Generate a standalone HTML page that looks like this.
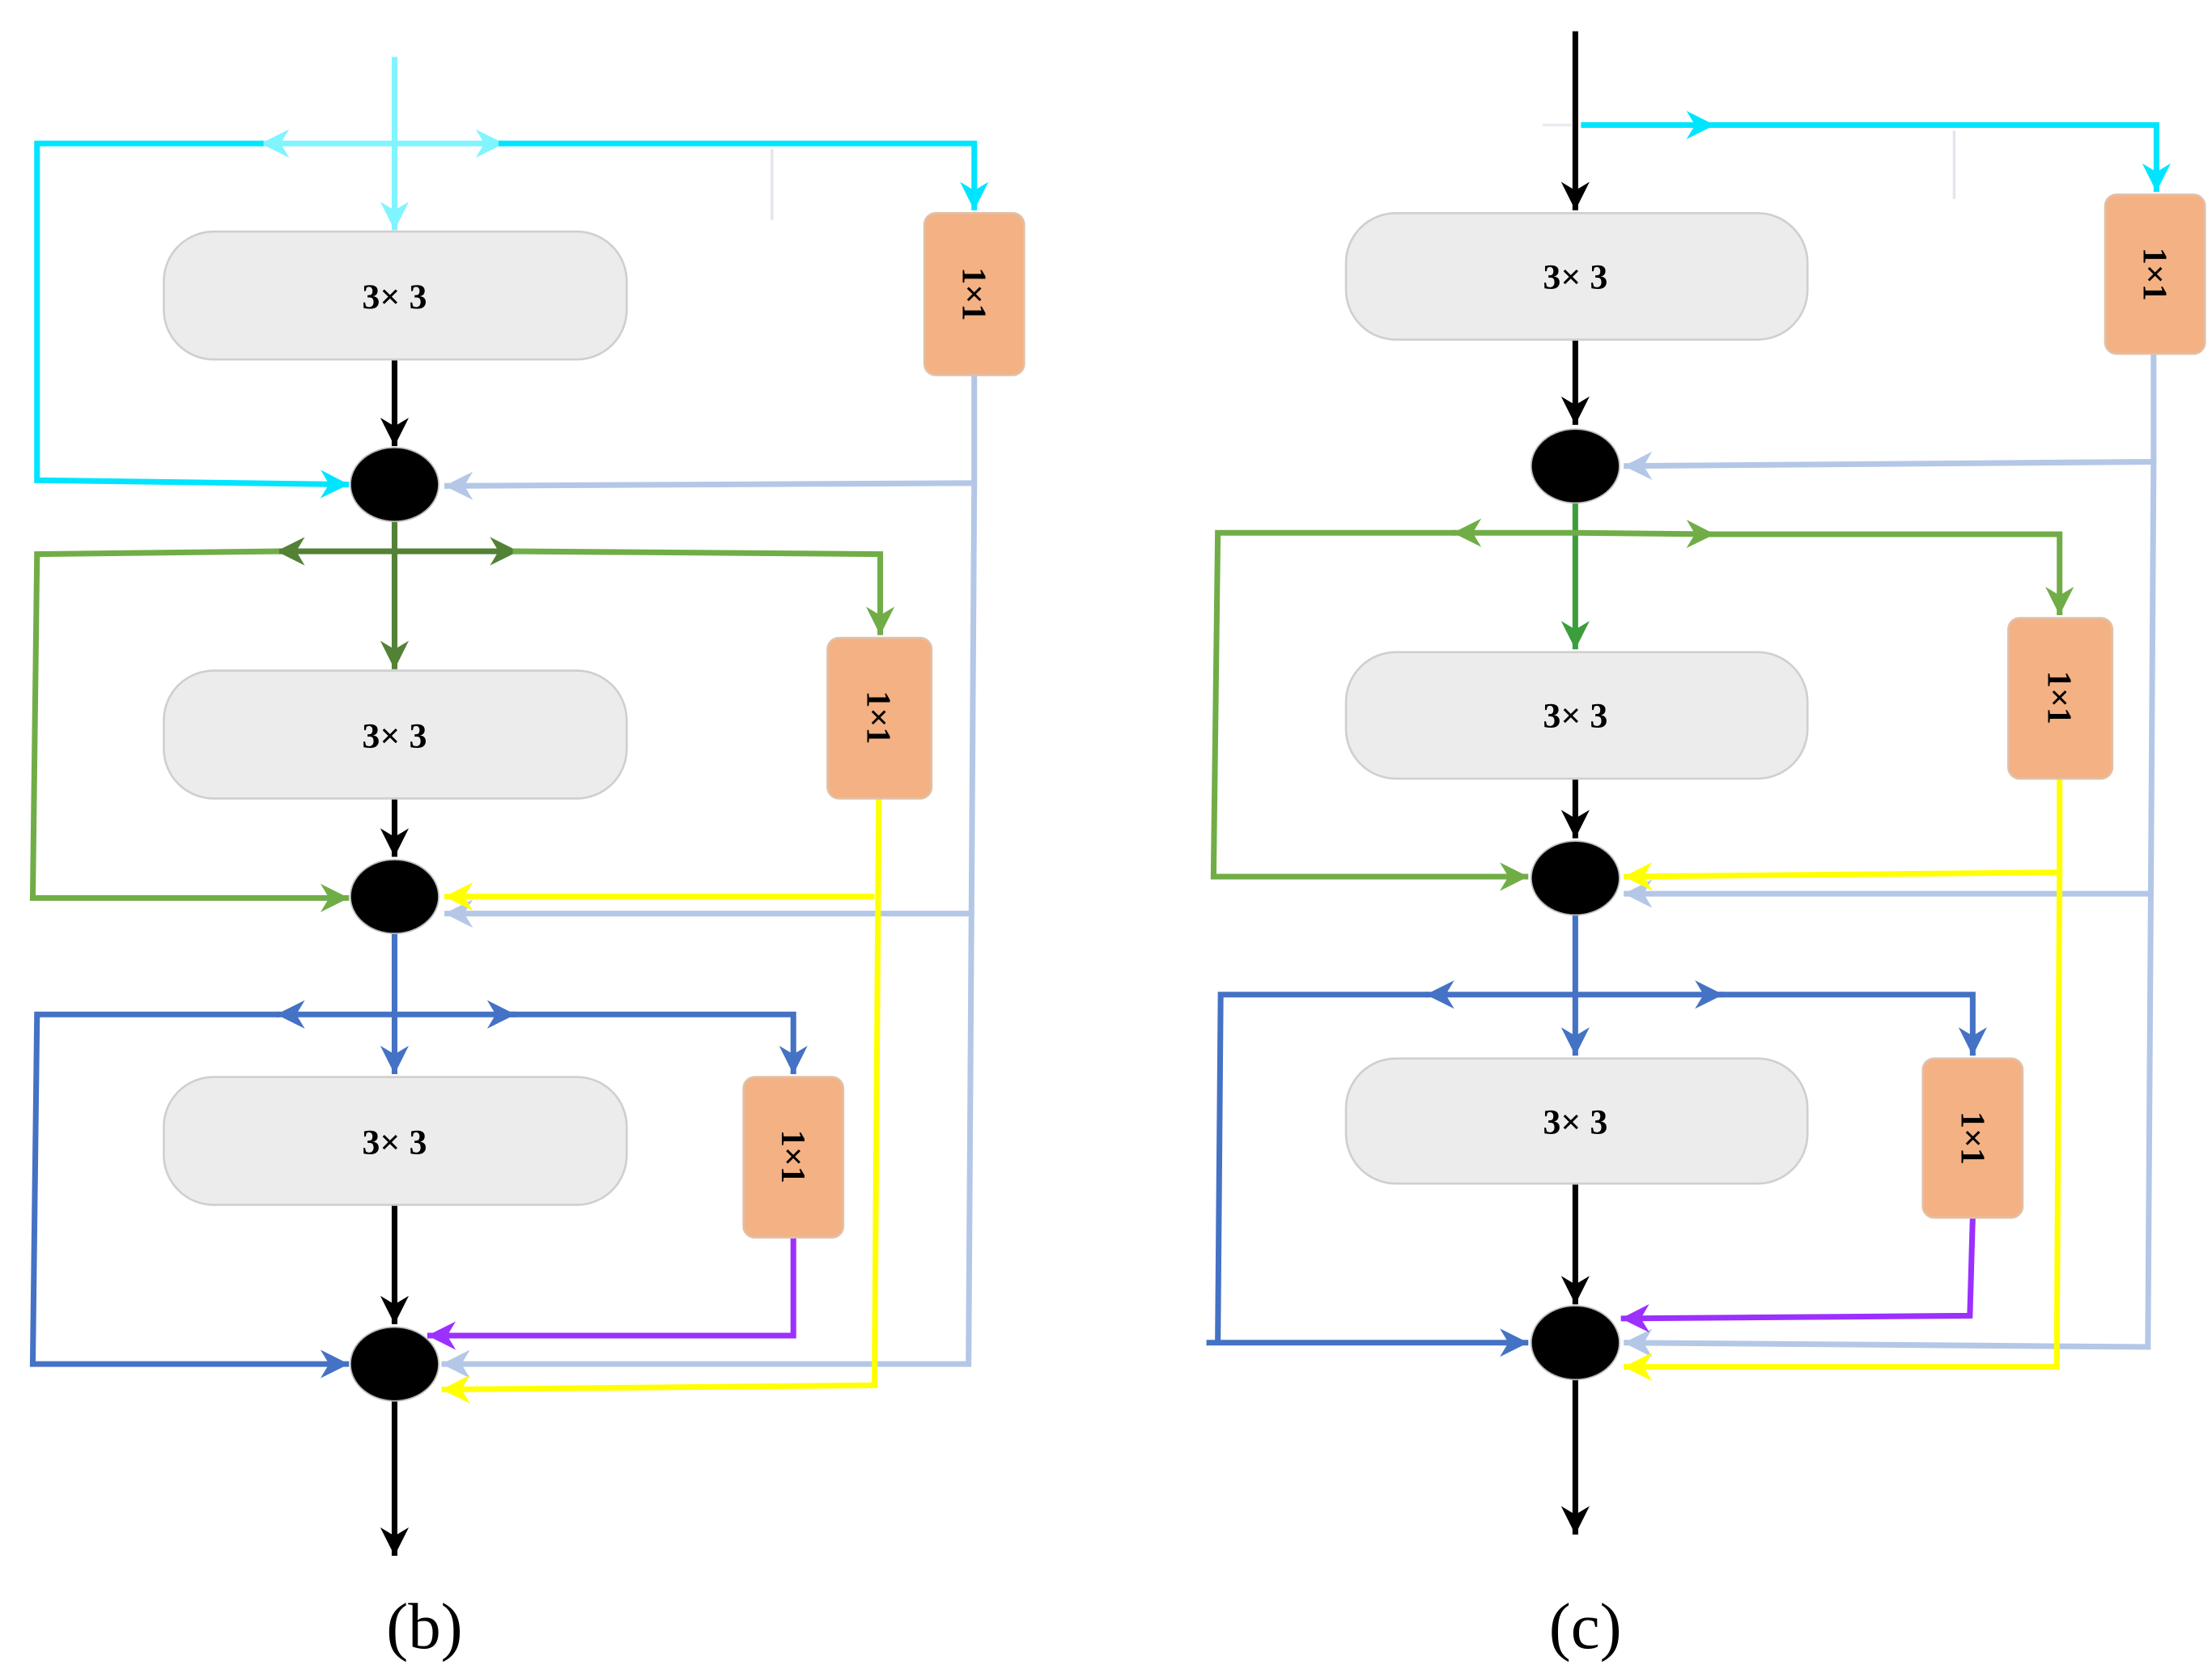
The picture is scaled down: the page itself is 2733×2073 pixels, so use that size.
<!DOCTYPE html>
<html><head><meta charset="utf-8"><style>
html,body{margin:0;padding:0;background:#fff;}
svg{display:block;}
text{font-family:"Liberation Serif",serif;font-weight:bold;}
</style></head><body>
<svg width="2733" height="2073" viewBox="0 0 1553 1181" preserveAspectRatio="none" xmlns="http://www.w3.org/2000/svg">
<defs>
<marker id="k" markerUnits="userSpaceOnUse" markerWidth="24" markerHeight="24" refX="20" refY="10" orient="auto"><path d="M0,0 L20,10 L0,20 L6,10 Z" fill="#000"/></marker>
<marker id="c" markerUnits="userSpaceOnUse" markerWidth="24" markerHeight="24" refX="20" refY="10" orient="auto"><path d="M0,0 L20,10 L0,20 L6,10 Z" fill="#00e5ff"/></marker>
<marker id="lc" markerUnits="userSpaceOnUse" markerWidth="24" markerHeight="24" refX="20" refY="10" orient="auto"><path d="M0,0 L20,10 L0,20 L6,10 Z" fill="#80f4ff"/></marker>
<marker id="lb" markerUnits="userSpaceOnUse" markerWidth="24" markerHeight="24" refX="20" refY="10" orient="auto"><path d="M0,0 L20,10 L0,20 L6,10 Z" fill="#b4c7e7"/></marker>
<marker id="g" markerUnits="userSpaceOnUse" markerWidth="24" markerHeight="24" refX="20" refY="10" orient="auto"><path d="M0,0 L20,10 L0,20 L6,10 Z" fill="#70ad47"/></marker>
<marker id="dg" markerUnits="userSpaceOnUse" markerWidth="24" markerHeight="24" refX="20" refY="10" orient="auto"><path d="M0,0 L20,10 L0,20 L6,10 Z" fill="#538135"/></marker>
<marker id="mg" markerUnits="userSpaceOnUse" markerWidth="24" markerHeight="24" refX="20" refY="10" orient="auto"><path d="M0,0 L20,10 L0,20 L6,10 Z" fill="#3c9d3c"/></marker>
<marker id="y" markerUnits="userSpaceOnUse" markerWidth="24" markerHeight="24" refX="20" refY="10" orient="auto"><path d="M0,0 L20,10 L0,20 L6,10 Z" fill="#ffff00"/></marker>
<marker id="b" markerUnits="userSpaceOnUse" markerWidth="24" markerHeight="24" refX="20" refY="10" orient="auto"><path d="M0,0 L20,10 L0,20 L6,10 Z" fill="#4472c4"/></marker>
<marker id="p" markerUnits="userSpaceOnUse" markerWidth="24" markerHeight="24" refX="20" refY="10" orient="auto"><path d="M0,0 L20,10 L0,20 L6,10 Z" fill="#9b30ff"/></marker>
</defs>
<g fill="none" stroke-width="4">
<line x1="277" y1="40" x2="277" y2="162" stroke="#80f4ff" marker-end="url(#lc)"/>
<line x1="277" y1="101" x2="183" y2="101" stroke="#80f4ff" marker-end="url(#lc)"/>
<line x1="277" y1="101" x2="354" y2="101" stroke="#80f4ff" marker-end="url(#lc)"/>
<polyline points="350,101 684,101 684,148" stroke="#00e5ff" marker-end="url(#c)"/>
<polyline points="185,101 26,101 26,338 245,341" stroke="#00e5ff" marker-end="url(#c)"/>
<line x1="542" y1="105" x2="542" y2="155" stroke="#e4e6ee" stroke-width="2"/>
<polyline points="684,264 684,340 312,342" stroke="#b4c7e7" marker-end="url(#lb)"/>
<polyline points="684,340 680,960 310,960" stroke="#b4c7e7" marker-end="url(#lb)"/>
<polyline points="684,643 312,643" stroke="#b4c7e7" marker-end="url(#lb)"/>
<line x1="277" y1="253" x2="277" y2="314" stroke="#000" marker-end="url(#k)"/>
<line x1="277" y1="366" x2="277" y2="471" stroke="#538135" marker-end="url(#dg)"/>
<line x1="277" y1="388" x2="194" y2="388" stroke="#538135" marker-end="url(#dg)"/>
<line x1="277" y1="388" x2="364" y2="388" stroke="#538135" marker-end="url(#dg)"/>
<polyline points="360,388 618,390 618,447" stroke="#70ad47" marker-end="url(#g)"/>
<polyline points="196,388 26,390 23,632 245,632" stroke="#70ad47" marker-end="url(#g)"/>
<line x1="277" y1="562" x2="277" y2="603" stroke="#000" marker-end="url(#k)"/>
<polyline points="617,562 614,975 310,978" stroke="#ffff00" marker-end="url(#y)"/>
<polyline points="614,631 312,631" stroke="#ffff00" marker-end="url(#y)"/>
<line x1="277" y1="656" x2="277" y2="756" stroke="#4472c4" marker-end="url(#b)"/>
<line x1="277" y1="714" x2="194" y2="714" stroke="#4472c4" marker-end="url(#b)"/>
<line x1="277" y1="714" x2="362" y2="714" stroke="#4472c4" marker-end="url(#b)"/>
<polyline points="358,714 557,714 557,756" stroke="#4472c4" marker-end="url(#b)"/>
<polyline points="196,714 26,714 23,960 245,960" stroke="#4472c4" marker-end="url(#b)"/>
<line x1="277" y1="848" x2="277" y2="932" stroke="#000" marker-end="url(#k)"/>
<polyline points="557,871 557,940 300,940" stroke="#9b30ff" marker-end="url(#p)"/>
<line x1="277" y1="985" x2="277" y2="1095" stroke="#000" marker-end="url(#k)"/>
<line x1="1106" y1="22" x2="1106" y2="148" stroke="#000" marker-end="url(#k)"/>
<line x1="1083" y1="88" x2="1104" y2="88" stroke="#e8eaf0" stroke-width="2"/>
<line x1="1110" y1="88" x2="1204" y2="88" stroke="#00e5ff" marker-end="url(#c)"/>
<polyline points="1200,88 1514,88 1514,135" stroke="#00e5ff" marker-end="url(#c)"/>
<line x1="1372" y1="92" x2="1372" y2="140" stroke="#e4e6ee" stroke-width="2"/>
<polyline points="1512,249 1512,325 1140,328" stroke="#b4c7e7" marker-end="url(#lb)"/>
<polyline points="1512,325 1508,948 1140,945" stroke="#b4c7e7" marker-end="url(#lb)"/>
<polyline points="1510,629 1140,629" stroke="#b4c7e7" marker-end="url(#lb)"/>
<line x1="1106" y1="239" x2="1106" y2="299" stroke="#000" marker-end="url(#k)"/>
<line x1="1106" y1="353" x2="1106" y2="457" stroke="#3c9d3c" marker-end="url(#mg)"/>
<line x1="1106" y1="375" x2="1020" y2="375" stroke="#70ad47" marker-end="url(#g)"/>
<line x1="1106" y1="375" x2="1204" y2="376" stroke="#70ad47" marker-end="url(#g)"/>
<polyline points="1200,376 1446,376 1446,433" stroke="#70ad47" marker-end="url(#g)"/>
<polyline points="1022,375 855,375 852,617 1073,617" stroke="#70ad47" marker-end="url(#g)"/>
<line x1="1106" y1="548" x2="1106" y2="590" stroke="#000" marker-end="url(#k)"/>
<polyline points="1446,548 1446,614 1140,617" stroke="#ffff00" marker-end="url(#y)"/>
<polyline points="1446,614 1444,962 1140,962" stroke="#ffff00" marker-end="url(#y)"/>
<line x1="1106" y1="643" x2="1106" y2="743" stroke="#4472c4" marker-end="url(#b)"/>
<line x1="1106" y1="700" x2="1001" y2="700" stroke="#4472c4" marker-end="url(#b)"/>
<line x1="1106" y1="700" x2="1210" y2="700" stroke="#4472c4" marker-end="url(#b)"/>
<polyline points="1205,700 1385,700 1385,743" stroke="#4472c4" marker-end="url(#b)"/>
<polyline points="1003,700 857,700 855,945" stroke="#4472c4"/>
<line x1="847" y1="945" x2="1073" y2="945" stroke="#4472c4" marker-end="url(#b)"/>
<line x1="1106" y1="833" x2="1106" y2="918" stroke="#000" marker-end="url(#k)"/>
<polyline points="1385,857 1383,926 1138,928" stroke="#9b30ff" marker-end="url(#p)"/>
<line x1="1106" y1="970" x2="1106" y2="1080" stroke="#000" marker-end="url(#k)"/>
</g>
<g fill="#ececec" stroke="#cfcfcf" stroke-width="1.5">
<rect x="115" y="163" width="325" height="90" rx="35"/>
<rect x="115" y="472" width="325" height="90" rx="35"/>
<rect x="115" y="758" width="325" height="90" rx="35"/>
<rect x="945" y="150" width="324" height="89" rx="35"/>
<rect x="945" y="459" width="324" height="89" rx="35"/>
<rect x="945" y="745" width="324" height="88" rx="35"/>
</g>
<g fill="#f4b183" stroke="#e0c0a8" stroke-width="1.5">
<rect x="649" y="150" width="70" height="114" rx="8"/>
<rect x="581" y="449" width="73" height="113" rx="8"/>
<rect x="522" y="758" width="70" height="113" rx="8"/>
<rect x="1478" y="137" width="70" height="112" rx="8"/>
<rect x="1410" y="435" width="73" height="113" rx="8"/>
<rect x="1350" y="745" width="70" height="112" rx="8"/>
</g>
<g fill="#000" stroke="#bbb" stroke-width="1">
<ellipse cx="277" cy="341" rx="31" ry="26"/>
<ellipse cx="277" cy="631" rx="31" ry="26"/>
<ellipse cx="277" cy="960" rx="31" ry="26"/>
<ellipse cx="1106" cy="328" rx="31" ry="26"/>
<ellipse cx="1106" cy="618" rx="31" ry="26"/>
<ellipse cx="1106" cy="945" rx="31" ry="26"/>
</g>
<g font-size="25" text-anchor="middle" fill="#000">
<text x="277" y="217">3× 3</text>
<text x="277" y="526">3× 3</text>
<text x="277" y="812">3× 3</text>
<text x="1106" y="203">3× 3</text>
<text x="1106" y="512">3× 3</text>
<text x="1106" y="798">3× 3</text>
</g>
<g font-size="24" text-anchor="middle" fill="#000">
<text transform="translate(676,207) rotate(90)">1×1</text>
<text transform="translate(609,505) rotate(90)">1×1</text>
<text transform="translate(549,814) rotate(90)">1×1</text>
<text transform="translate(1505,193) rotate(90)">1×1</text>
<text transform="translate(1438,491) rotate(90)">1×1</text>
<text transform="translate(1377,801) rotate(90)">1×1</text>
</g>
<g font-size="46" text-anchor="middle" fill="#000">
<text x="298" y="1160" style="font-weight:normal">(b)</text>
<text x="1113" y="1160" style="font-weight:normal">(c)</text>
</g>
</svg>
</body></html>
